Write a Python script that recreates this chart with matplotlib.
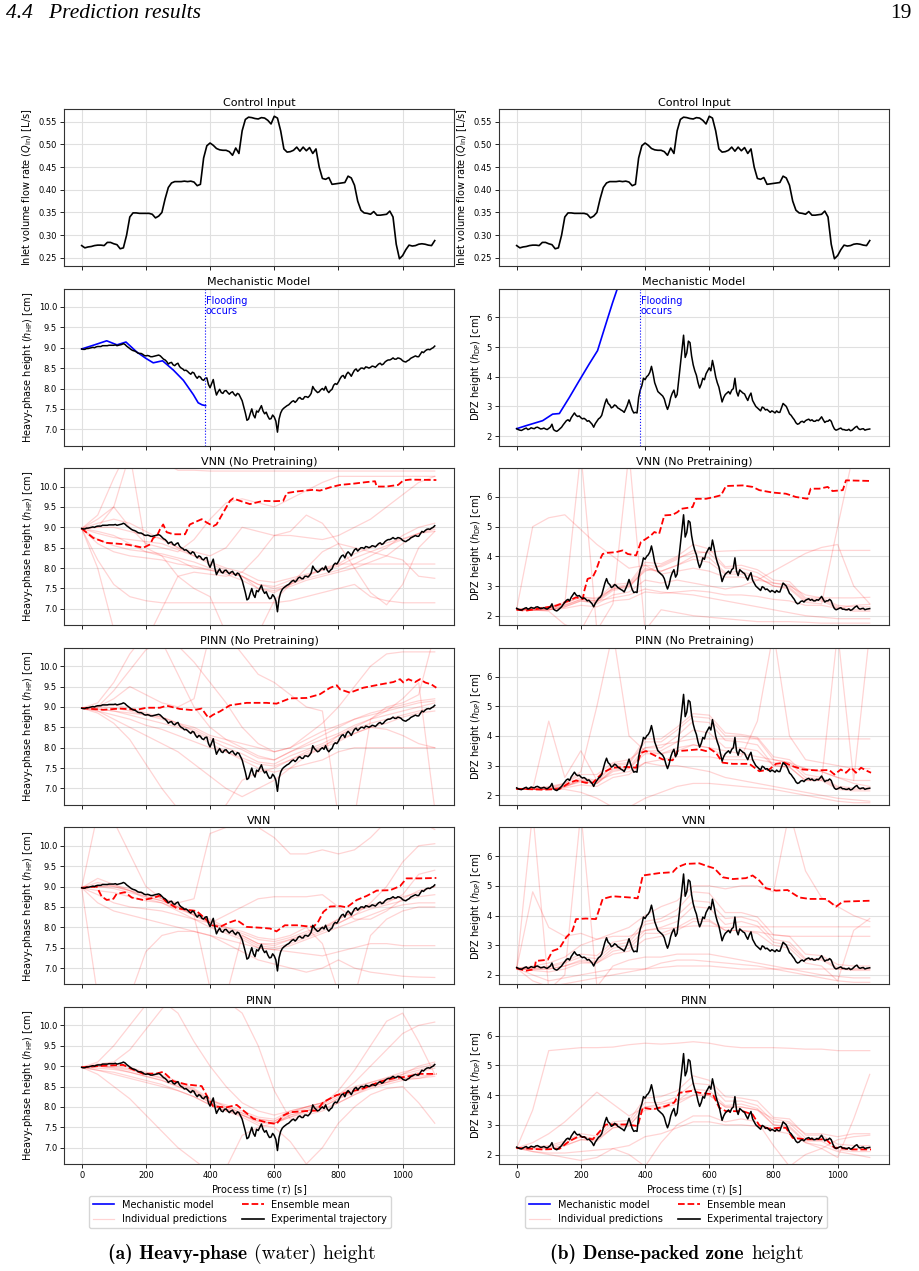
import numpy as np
import matplotlib
matplotlib.use("Agg")
import matplotlib.pyplot as plt
from matplotlib.lines import Line2D
from matplotlib.offsetbox import TextArea, HPacker, AnchoredOffsetbox

plt.rcParams.update({"xtick.labelsize": 6, "ytick.labelsize": 6, "axes.labelsize": 7,
                     "axes.titlesize": 8, "axes.edgecolor": "#333333"})

# control input, sampled every 10 s
T_Q = np.arange(0, 1101, 10)
Q_IN = [0.277, 0.272, 0.274, 0.275, 0.277, 0.278, 0.278, 0.277, 0.284, 0.284,
        0.281, 0.279, 0.270, 0.272, 0.300, 0.340, 0.349, 0.349, 0.348, 0.348,
        0.348, 0.348, 0.346, 0.338, 0.342, 0.350, 0.380, 0.405, 0.415, 0.418,
        0.418, 0.418, 0.419, 0.418, 0.419, 0.417, 0.409, 0.412, 0.470, 0.497,
        0.503, 0.498, 0.491, 0.488, 0.487, 0.487, 0.484, 0.476, 0.492, 0.480,
        0.530, 0.555, 0.560, 0.559, 0.557, 0.556, 0.559, 0.558, 0.553, 0.545,
        0.562, 0.558, 0.530, 0.490, 0.483, 0.484, 0.487, 0.494, 0.485, 0.494,
        0.486, 0.493, 0.480, 0.490, 0.450, 0.425, 0.423, 0.427, 0.412, 0.413,
        0.414, 0.415, 0.416, 0.430, 0.426, 0.410, 0.375, 0.355, 0.349, 0.348,
        0.346, 0.352, 0.344, 0.344, 0.345, 0.346, 0.353, 0.340, 0.280, 0.248,
        0.255, 0.268, 0.278, 0.276, 0.277, 0.280, 0.281, 0.280, 0.278, 0.277,
        0.288]

# experimental heights, sampled every 5 s
T_EXP = np.arange(0, 1101, 5)
H_HP = [8.97, 8.96, 8.96, 8.98, 8.98, 8.99, 9.00, 9.01, 9.00, 9.02,
        9.03, 9.03, 9.03, 9.05, 9.05, 9.05, 9.05, 9.06, 9.06, 9.06,
        9.06, 9.07, 9.05, 9.06, 9.07, 9.08, 9.10, 9.08, 9.04, 9.01,
        8.98, 8.95, 8.93, 8.92, 8.90, 8.87, 8.86, 8.86, 8.84, 8.81,
        8.80, 8.81, 8.80, 8.78, 8.78, 8.79, 8.80, 8.81, 8.82, 8.80,
        8.76, 8.72, 8.70, 8.66, 8.60, 8.63, 8.64, 8.58, 8.56, 8.60,
        8.62, 8.54, 8.50, 8.48, 8.44, 8.45, 8.42, 8.38, 8.35, 8.40,
        8.38, 8.30, 8.25, 8.30, 8.28, 8.22, 8.20, 8.25, 8.26, 8.10,
        8.02, 8.12, 8.22, 8.00, 7.84, 7.92, 7.98, 7.90, 7.88, 7.94,
        7.95, 7.90, 7.86, 7.90, 7.92, 7.86, 7.82, 7.88, 7.86, 7.78,
        7.70, 7.55, 7.40, 7.22, 7.25, 7.38, 7.50, 7.35, 7.28, 7.45,
        7.42, 7.50, 7.58, 7.45, 7.38, 7.42, 7.32, 7.25, 7.26, 7.35,
        7.30, 7.20, 6.93, 7.25, 7.40, 7.48, 7.52, 7.55, 7.58, 7.60,
        7.64, 7.68, 7.70, 7.66, 7.70, 7.76, 7.78, 7.74, 7.74, 7.80,
        7.80, 7.78, 7.82, 7.88, 8.05, 7.98, 7.94, 7.90, 7.92, 7.97,
        8.00, 7.96, 8.05, 7.95, 7.90, 7.95, 7.98, 8.08, 8.12, 8.10,
        8.16, 8.24, 8.30, 8.32, 8.25, 8.35, 8.40, 8.36, 8.30, 8.38,
        8.45, 8.48, 8.42, 8.46, 8.50, 8.50, 8.48, 8.53, 8.52, 8.50,
        8.52, 8.55, 8.54, 8.52, 8.56, 8.60, 8.62, 8.58, 8.60, 8.65,
        8.68, 8.70, 8.70, 8.72, 8.75, 8.72, 8.72, 8.75, 8.74, 8.72,
        8.68, 8.66, 8.65, 8.68, 8.70, 8.74, 8.76, 8.78, 8.80, 8.78,
        8.78, 8.84, 8.90, 8.88, 8.92, 8.95, 8.96, 8.95, 8.98, 9.00,
        9.04]
H_DP = [2.25, 2.22, 2.20, 2.19, 2.22, 2.25, 2.27, 2.22, 2.24, 2.28,
        2.26, 2.25, 2.29, 2.30, 2.27, 2.24, 2.25, 2.27, 2.24, 2.22,
        2.26, 2.30, 2.40, 2.22, 2.18, 2.16, 2.20, 2.25, 2.30, 2.38,
        2.45, 2.52, 2.55, 2.50, 2.62, 2.70, 2.78, 2.70, 2.66, 2.68,
        2.62, 2.58, 2.60, 2.56, 2.50, 2.52, 2.46, 2.40, 2.30, 2.42,
        2.50, 2.58, 2.62, 2.70, 2.90, 3.10, 3.25, 3.10, 3.05, 2.95,
        2.98, 3.05, 3.02, 2.95, 2.92, 2.88, 2.85, 2.80, 2.92, 3.05,
        3.22, 3.05, 2.88, 2.78, 2.80, 2.78, 3.30, 3.55, 3.70, 3.95,
        3.90, 4.00, 4.05, 4.15, 4.35, 4.10, 3.80, 3.65, 3.50, 3.45,
        3.40, 3.35, 3.25, 3.05, 2.90, 3.05, 3.30, 3.45, 3.55, 3.30,
        3.40, 3.90, 4.40, 4.90, 5.40, 4.65, 4.80, 5.20, 5.15, 4.70,
        4.40, 4.20, 4.05, 3.80, 3.62, 3.75, 3.95, 3.90, 4.10, 4.20,
        4.30, 4.20, 4.55, 4.30, 4.00, 3.80, 3.65, 3.40, 3.15, 3.30,
        3.40, 3.45, 3.50, 3.42, 3.55, 3.60, 3.95, 3.50, 3.35, 3.55,
        3.50, 3.45, 3.42, 3.30, 3.20, 3.35, 3.45, 3.20, 3.10, 3.00,
        2.95, 2.90, 2.85, 2.98, 2.95, 2.88, 2.90, 2.85, 2.80, 2.85,
        2.82, 2.78, 2.85, 2.80, 2.80, 2.95, 3.10, 3.05, 3.00, 2.88,
        2.75, 2.70, 2.62, 2.55, 2.45, 2.40, 2.42, 2.48, 2.50, 2.46,
        2.52, 2.55, 2.57, 2.52, 2.55, 2.50, 2.50, 2.54, 2.52, 2.58,
        2.65, 2.55, 2.46, 2.50, 2.50, 2.55, 2.50, 2.35, 2.24, 2.20,
        2.22, 2.25, 2.27, 2.22, 2.22, 2.20, 2.20, 2.23, 2.18, 2.20,
        2.25, 2.30, 2.33, 2.25, 2.22, 2.24, 2.25, 2.20, 2.22, 2.23,
        2.24]

# mechanistic model
T_FLOOD = 385
MECH_HP_T = [0, 40, 78, 110, 138, 171, 200, 223, 252, 286, 317, 348, 363, 375, 386]
MECH_HP = [8.97, 9.07, 9.17, 9.07, 9.14, 8.9, 8.74, 8.63, 8.68, 8.45, 8.2, 7.85, 7.65, 7.6, 7.58]
MECH_DP_T = [0, 29, 81, 112, 133, 164, 195, 226, 252, 278, 299, 315, 330]
MECH_DP = [2.25, 2.35, 2.52, 2.74, 2.76, 3.3, 3.87, 4.43, 4.88, 5.78, 6.5, 7.01, 7.5]

# ensemble means
HP_VNN_NP_MT = [0, 36, 78, 140, 192, 213, 223, 234, 244, 254, 265, 286, 322, 337, 374, 389, 410, 420,
                441, 462, 472, 493, 524, 545, 566, 597, 628, 639, 670, 722, 742, 774, 805, 846, 888,
                914, 919, 950, 986, 1002, 1023, 1105]
HP_VNN_NP_M = [8.97, 8.74, 8.62, 8.58, 8.5, 8.58, 8.74, 8.78, 8.95, 9.07, 8.88, 8.83, 8.83, 9.07, 9.2,
               9.12, 9.03, 9.07, 9.36, 9.65, 9.71, 9.65, 9.57, 9.61, 9.65, 9.64, 9.65, 9.84, 9.88, 9.92,
               9.9, 9.98, 10.04, 10.07, 10.11, 10.13, 10.0, 10.0, 10.04, 10.15, 10.17, 10.16]
HP_PINN_NP_MT = [0, 67, 119, 171, 202, 244, 265, 306, 348, 374, 395, 410, 431, 462, 514, 576, 607, 649,
                 701, 742, 774, 795, 805, 836, 877, 929, 971, 992, 1002, 1018, 1039, 1054, 1070, 1090, 1105]
HP_PINN_NP_M = [8.97, 8.93, 8.96, 8.93, 8.98, 8.98, 9.03, 8.95, 8.92, 8.96, 8.73, 8.81, 8.89, 9.04, 9.1,
                9.1, 9.08, 9.21, 9.22, 9.31, 9.47, 9.53, 9.43, 9.35, 9.47, 9.55, 9.61, 9.68, 9.6, 9.68,
                9.61, 9.68, 9.6, 9.55, 9.47]
HP_VNN_MT = [0, 47, 62, 78, 99, 109, 135, 156, 192, 223, 244, 265, 296, 327, 358, 384, 405, 431, 457, 483,
             514, 556, 587, 607, 633, 670, 722, 737, 753, 774, 805, 826, 857, 888, 919, 961, 992, 1012, 1054, 1105]
HP_VNN_M = [8.97, 9.0, 8.76, 8.67, 8.7, 8.82, 8.86, 8.73, 8.67, 8.72, 8.78, 8.62, 8.47, 8.43, 8.4, 8.22,
            8.05, 8.01, 8.11, 8.18, 8.01, 7.99, 7.97, 7.9, 8.05, 8.05, 8.01, 8.14, 8.38, 8.51, 8.52, 8.49,
            8.67, 8.77, 8.9, 8.91, 9.01, 9.2, 9.2, 9.21]
HP_PINN_MT = [0, 67, 130, 150, 192, 234, 254, 286, 327, 374, 395, 410, 452, 483, 504, 535, 576, 607, 628,
              649, 701, 732, 753, 794, 836, 877, 929, 971, 1012, 1054, 1105]
HP_PINN_M = [8.97, 9.01, 9.03, 8.95, 8.81, 8.82, 8.86, 8.63, 8.55, 8.51, 8.2, 8.01, 7.99, 8.05, 7.91, 7.71,
             7.62, 7.58, 7.79, 7.87, 7.9, 7.91, 8.12, 8.29, 8.37, 8.45, 8.62, 8.7, 8.74, 8.81, 8.81]
DP_VNN_NP_MT = [0, 29, 81, 123, 164, 185, 206, 211, 221, 237, 247, 258, 268, 283, 309, 330, 346, 372, 387,
                403, 418, 429, 444, 460, 486, 501, 512, 548, 558, 590, 616, 637, 652, 704, 735, 756, 797,
                839, 870, 906, 916, 943, 969, 984, 1016, 1026, 1104]
DP_VNN_NP_M = [2.2, 2.17, 2.26, 2.34, 2.51, 2.62, 2.56, 2.85, 3.24, 3.3, 3.52, 3.86, 4.08, 4.12, 4.14, 4.2,
               4.08, 4.03, 4.48, 4.59, 4.7, 4.82, 4.76, 5.38, 5.4, 5.49, 5.6, 5.66, 5.94, 5.94, 6.0, 6.06,
               6.37, 6.39, 6.34, 6.23, 6.15, 6.11, 6.0, 5.94, 6.28, 6.28, 6.34, 6.2, 6.23, 6.56, 6.54]
DP_PINN_NP_MT = [0, 81, 133, 164, 185, 216, 237, 268, 299, 341, 372, 387, 403, 434, 455, 486, 501, 527, 569,
                 590, 600, 621, 642, 673, 725, 756, 787, 808, 834, 860, 891, 932, 974, 990, 1010, 1026,
                 1042, 1057, 1073, 1088, 1104]
DP_PINN_NP_M = [2.22, 2.19, 2.21, 2.42, 2.5, 2.42, 2.42, 2.76, 2.93, 2.96, 2.93, 3.43, 3.49, 3.32, 3.21,
                3.18, 3.49, 3.51, 3.55, 3.49, 3.58, 3.43, 3.1, 3.06, 3.06, 2.81, 2.87, 3.06, 3.1, 2.98,
                2.87, 2.84, 2.85, 2.7, 2.87, 2.76, 2.93, 2.76, 2.93, 2.84, 2.76]
DP_VNN_MT = [0, 29, 55, 60, 97, 112, 133, 154, 174, 185, 216, 247, 268, 299, 351, 377, 393, 444, 486, 501,
             527, 569, 595, 616, 642, 673, 714, 735, 756, 777, 808, 844, 880, 912, 964, 984, 995, 1016, 1104]
DP_VNN_M = [2.22, 2.14, 2.19, 2.47, 2.51, 2.81, 2.89, 3.26, 3.49, 3.88, 3.9, 3.88, 4.56, 4.65, 4.61, 4.58,
            5.35, 5.43, 5.46, 5.63, 5.74, 5.76, 5.66, 5.59, 5.29, 5.23, 5.26, 5.35, 5.18, 4.92, 4.84, 4.86,
            4.61, 4.56, 4.56, 4.39, 4.3, 4.47, 4.5]
DP_PINN_MT = [0, 81, 133, 164, 195, 237, 278, 341, 377, 393, 424, 465, 491, 507, 543, 569, 611, 631, 652,
              704, 735, 756, 787, 818, 839, 860, 901, 964, 990, 1047, 1104]
DP_PINN_M = [2.22, 2.17, 2.19, 2.45, 2.62, 2.51, 3.01, 3.01, 2.96, 3.58, 3.52, 3.63, 3.75, 4.08, 4.14, 4.08,
             4.03, 3.58, 3.46, 3.46, 3.35, 2.98, 2.87, 2.9, 2.9, 2.56, 2.51, 2.51, 2.23, 2.17, 2.17]

# individual ensemble members, read every 50 s
T_GRID = [0, 50, 100, 150, 200, 250, 300, 350, 400, 450, 500, 550, 600, 650, 700, 750, 800, 850, 900, 950,
          1000, 1050, 1100]
HP_VNN_NP_IND = [
    [8.97, 9.0, 9.0, 8.9, 8.8, 8.72, 8.5, 8.3, 8.1, 7.95, 7.8, 7.6, 7.55, 7.7, 7.8, 7.95, 8.1, 8.35, 8.5, 8.62, 8.72, 8.85, 9.0],
    [8.97, 8.85, 8.75, 8.7, 8.65, 8.6, 8.45, 8.3, 8.15, 8.0, 7.9, 7.7, 7.65, 7.75, 7.85, 7.95, 8.05, 8.25, 8.4, 8.55, 8.7, 8.85, 8.95],
    [8.97, 8.7, 8.55, 8.45, 8.4, 8.35, 8.25, 8.15, 8.0, 7.9, 7.8, 7.6, 7.5, 7.6, 7.75, 7.85, 7.95, 8.1, 8.3, 8.5, 8.8, 9.0, 9.1],
    [8.97, 8.6, 8.4, 8.3, 8.25, 8.2, 8.1, 8.05, 7.95, 7.85, 7.7, 7.5, 7.45, 7.55, 7.7, 7.8, 7.9, 8.0, 8.15, 8.3, 8.6, 8.85, 8.9],
    [8.97, 8.2, 7.6, 7.3, 7.2, 7.15, 7.15, 7.15, 7.15, 7.15, 7.15, 7.15, 7.15, 7.2, 7.3, 7.4, 7.5, 7.6, 7.3, 7.2, 7.15, 7.15, 7.15],
    [8.97, 9.3, 10.2, 11.0, 11.0, 10.6, 10.4, 10.4, 10.38, 10.38, 10.38, 10.38, 10.38, 10.38, 10.38, 10.38, 10.38, 10.38, 10.38, 10.38, 10.38, 10.38, 10.38],
    [8.97, 8.0, 6.5, 6.2, 6.2, 7.0, 7.8, 7.9, 7.85, 7.8, 7.9, 8.3, 8.8, 8.8, 8.75, 8.7, 8.8, 9.0, 9.2, 9.5, 9.8, 10.1, 10.25],
    [8.97, 9.2, 9.5, 9.0, 8.6, 8.5, 8.4, 8.7, 9.2, 9.6, 9.7, 9.6, 9.5, 9.7, 9.9, 10.1, 10.25, 10.25, 10.25, 10.25, 10.25, 10.25, 10.25],
    [8.97, 8.9, 8.8, 8.6, 8.4, 8.3, 8.2, 8.0, 7.95, 7.9, 7.8, 7.5, 7.4, 7.6, 7.8, 8.0, 8.1, 8.1, 8.1, 8.1, 8.1, 8.1, 8.1],
    [8.97, 9.0, 9.5, 10.8, 8.5, 8.3, 7.8, 7.5, 7.3, 6.4, 6.2, 6.4, 7.2, 7.6, 8.0, 8.4, 8.6, 8.5, 8.4, 8.3, 8.2, 7.8, 7.75],
    [8.97, 9.1, 9.2, 9.1, 8.9, 8.7, 8.5, 8.4, 8.3, 8.5, 9.0, 8.9, 8.8, 8.9, 9.3, 9.1, 8.6, 8.0, 7.4, 7.1, 7.6, 8.5, 8.9],
]
HP_PINN_NP_IND = [
    [8.97, 9.02, 9.05, 8.97, 8.85, 8.75, 8.6, 8.4, 8.2, 8.0, 7.85, 7.65, 7.6, 7.8, 7.95, 8.1, 8.3, 8.45, 8.6, 8.7, 8.8, 8.9, 9.0],
    [8.97, 9.0, 8.98, 8.9, 8.8, 8.7, 8.55, 8.45, 8.25, 8.1, 7.95, 7.75, 7.7, 7.9, 8.05, 8.2, 8.35, 8.55, 8.7, 8.8, 8.9, 9.0, 9.1],
    [8.97, 8.95, 8.9, 8.8, 8.7, 8.6, 8.5, 8.35, 8.1, 7.9, 7.75, 7.6, 7.55, 7.7, 7.85, 8.0, 8.15, 8.35, 8.5, 8.6, 8.75, 8.85, 8.9],
    [8.97, 9.1, 9.6, 10.3, 10.8, 10.6, 9.8, 9.0, 8.5, 8.2, 8.0, 7.8, 7.7, 7.9, 8.1, 8.3, 8.5, 8.7, 8.85, 8.95, 9.05, 9.15, 9.2],
    [8.97, 9.0, 9.4, 9.9, 10.4, 10.6, 10.5, 10.1, 9.6, 9.1, 8.5, 8.1, 7.9, 8.0, 8.2, 8.4, 8.55, 8.7, 8.8, 8.9, 9.0, 9.1, 9.15],
    [8.97, 8.85, 8.6, 8.2, 7.6, 7.0, 6.5, 6.2, 6.2, 6.6, 7.2, 7.4, 7.5, 7.7, 7.9, 8.05, 8.2, 8.35, 8.5, 8.45, 8.3, 8.1, 8.0],
    [8.97, 8.95, 8.9, 8.85, 8.8, 8.75, 8.6, 8.5, 8.3, 8.2, 8.1, 8.0, 7.9, 8.0, 8.3, 8.6, 9.0, 9.5, 10.0, 10.3, 10.35, 10.35, 10.35],
    [8.97, 8.9, 8.8, 8.7, 8.55, 8.45, 8.3, 8.15, 8.0, 7.9, 7.7, 7.5, 7.4, 7.5, 7.6, 7.7, 7.9, 8.0, 8.0, 8.0, 8.0, 8.0, 8.0],
    [8.97, 9.0, 9.2, 9.5, 9.3, 9.1, 9.0, 9.2, 10.8, 10.8, 10.3, 9.8, 9.6, 9.3, 9.0, 8.9, 6.3, 6.3, 8.7, 9.0, 9.1, 9.3, 10.8],
    [8.97, 8.9, 8.7, 8.5, 8.3, 8.1, 7.9, 7.6, 7.3, 7.0, 6.8, 7.0, 7.2, 7.5, 7.8, 8.0, 8.3, 8.5, 8.7, 8.9, 9.2, 9.6, 6.5],
]
HP_VNN_IND = [
    [8.97, 9.0, 9.03, 8.95, 8.8, 8.72, 8.55, 8.35, 8.15, 7.95, 7.8, 7.6, 7.55, 7.7, 7.85, 8.0, 8.2, 8.4, 8.55, 8.65, 8.75, 8.85, 9.0],
    [8.97, 8.9, 8.85, 8.75, 8.65, 8.6, 8.45, 8.3, 8.1, 7.9, 7.75, 7.55, 7.5, 7.6, 7.75, 7.9, 8.1, 8.3, 8.45, 8.55, 8.65, 8.75, 8.8],
    [8.97, 8.8, 8.6, 8.5, 8.45, 8.4, 8.3, 8.2, 8.0, 7.85, 7.7, 7.5, 7.45, 7.55, 7.7, 7.85, 8.0, 8.15, 8.3, 8.45, 8.55, 8.6, 8.6],
    [8.97, 9.2, 9.05, 8.9, 8.75, 8.65, 8.5, 8.3, 6.5, 6.3, 7.8, 7.6, 7.6, 7.7, 7.8, 7.95, 8.2, 8.4, 8.5, 8.6, 8.8, 9.3, 9.4],
    [8.97, 6.3, 6.2, 6.3, 7.4, 7.8, 7.9, 7.9, 7.8, 7.7, 7.6, 7.5, 7.45, 7.4, 7.35, 7.3, 7.4, 7.5, 7.6, 7.6, 7.55, 7.55, 7.55],
    [8.97, 10.8, 10.6, 9.8, 9.0, 8.7, 8.6, 8.7, 10.3, 10.45, 10.45, 10.45, 10.2, 9.8, 9.8, 9.9, 9.8, 9.9, 10.2, 10.6, 10.6, 10.6, 10.4],
    [8.97, 9.1, 9.0, 8.9, 8.7, 8.6, 8.4, 8.2, 8.1, 8.3, 8.5, 8.7, 8.75, 8.75, 8.75, 8.8, 8.5, 8.2, 8.2, 8.4, 8.7, 8.9, 9.0],
    [8.97, 8.6, 8.4, 8.3, 8.2, 8.1, 8.0, 7.9, 7.8, 7.6, 7.4, 7.2, 7.1, 7.0, 6.9, 7.0, 7.2, 7.0, 6.9, 6.85, 6.8, 6.78, 6.77],
    [8.97, 9.0, 9.0, 8.9, 8.8, 8.7, 8.5, 8.3, 8.1, 8.0, 7.85, 7.7, 7.65, 7.75, 7.9, 8.0, 8.1, 8.3, 8.6, 9.0, 9.6, 10.0, 10.05],
    [8.97, 9.0, 8.95, 8.85, 8.75, 8.65, 8.5, 8.35, 8.2, 8.0, 7.9, 7.75, 7.7, 7.8, 8.0, 7.6, 6.4, 6.3, 7.8, 8.2, 8.4, 8.5, 8.5],
]
HP_PINN_IND = [
    [8.97, 9.02, 9.05, 8.97, 8.85, 8.78, 8.62, 8.45, 8.2, 8.0, 7.85, 7.7, 7.65, 7.85, 7.95, 8.05, 8.25, 8.4, 8.55, 8.65, 8.75, 8.85, 8.95],
    [8.97, 9.0, 9.0, 8.93, 8.82, 8.72, 8.58, 8.42, 8.15, 8.05, 7.9, 7.75, 7.7, 7.9, 8.0, 8.1, 8.3, 8.45, 8.6, 8.72, 8.85, 8.95, 9.05],
    [8.97, 8.95, 8.92, 8.85, 8.75, 8.65, 8.5, 8.35, 8.1, 7.95, 7.8, 7.6, 7.6, 7.75, 7.9, 8.0, 8.2, 8.35, 8.5, 8.6, 8.7, 8.75, 8.8],
    [8.97, 8.9, 8.8, 8.7, 8.6, 8.5, 8.4, 8.25, 8.05, 7.9, 7.8, 7.65, 7.6, 7.75, 7.85, 7.95, 8.1, 8.3, 8.45, 8.55, 8.65, 8.7, 8.75],
    [8.97, 9.1, 9.5, 10.0, 10.5, 10.6, 10.3, 9.6, 9.0, 8.5, 8.1, 7.9, 7.8, 7.9, 8.0, 8.1, 8.3, 8.5, 8.6, 8.7, 8.8, 8.9, 9.0],
    [8.97, 8.8, 8.5, 8.2, 7.8, 7.4, 7.0, 6.7, 6.4, 6.5, 7.3, 7.5, 7.6, 7.8, 7.9, 8.0, 8.2, 8.4, 8.5, 8.6, 8.7, 8.7, 8.8],
    [8.97, 9.05, 9.1, 9.4, 9.9, 10.4, 10.8, 10.9, 10.8, 10.6, 10.3, 9.5, 8.4, 7.7, 7.8, 7.9, 8.1, 8.3, 8.5, 8.6, 8.8, 9.0, 9.1],
    [8.97, 9.0, 8.95, 8.85, 8.75, 8.65, 8.5, 8.35, 8.1, 7.95, 7.8, 7.65, 7.6, 7.8, 7.9, 8.05, 8.4, 8.9, 9.5, 10.1, 10.3, 9.6, 8.8],
    [8.97, 9.0, 8.97, 8.9, 8.8, 8.7, 8.55, 8.4, 8.15, 8.0, 7.85, 7.7, 7.65, 7.85, 8.0, 8.1, 8.3, 8.6, 9.0, 9.4, 9.8, 10.0, 10.08],
    [8.97, 8.9, 8.85, 8.75, 8.65, 8.55, 8.4, 8.25, 8.05, 7.9, 7.75, 7.55, 7.5, 7.15, 6.6, 7.0, 7.6, 8.0, 8.3, 8.45, 8.5, 8.1, 7.6],
]
DP_VNN_NP_IND = [
    [2.22, 2.22, 2.25, 2.35, 2.55, 2.5, 2.95, 3.05, 3.7, 3.65, 3.9, 4.2, 4.1, 3.6, 3.6, 3.45, 3.1, 3.05, 2.55, 2.55, 2.3, 2.2, 2.2],
    [2.2, 2.18, 2.2, 2.3, 2.5, 2.45, 2.85, 2.95, 3.55, 3.5, 3.7, 4.0, 3.95, 3.45, 3.5, 3.3, 3.0, 2.95, 2.5, 2.5, 2.25, 2.15, 2.15],
    [2.22, 2.25, 2.28, 2.4, 2.65, 2.55, 3.05, 3.1, 3.8, 3.75, 4.0, 4.4, 4.25, 3.65, 3.7, 3.55, 3.2, 3.15, 2.6, 2.6, 2.35, 2.3, 2.3],
    [2.22, 5.0, 5.3, 5.4, 4.9, 4.4, 4.0, 3.6, 3.7, 3.4, 3.5, 3.6, 3.5, 3.3, 3.3, 3.2, 3.1, 3.0, 2.7, 2.6, 2.6, 2.6, 2.62],
    [2.2, 2.25, 2.3, 2.45, 2.6, 2.6, 2.9, 3.0, 3.5, 3.7, 3.95, 4.1, 4.15, 4.18, 4.2, 4.2, 4.2, 4.2, 4.2, 4.2, 4.2, 4.2, 4.2],
    [2.2, 2.2, 2.15, 1.7, 1.5, 2.5, 2.6, 2.7, 2.9, 2.8, 2.75, 2.7, 2.6, 2.5, 2.4, 2.3, 2.2, 2.1, 2.0, 1.95, 1.9, 1.9, 1.9],
    [2.22, 2.2, 2.25, 2.4, 7.5, 1.5, 2.4, 7.5, 1.5, 2.2, 2.1, 2.0, 1.95, 1.9, 1.85, 1.8, 1.8, 1.8, 1.78, 1.75, 1.75, 1.75, 1.75],
    [2.22, 2.2, 2.2, 2.3, 2.5, 2.4, 2.7, 2.8, 3.2, 3.1, 3.2, 3.1, 3.0, 2.9, 3.0, 3.2, 3.5, 3.8, 4.1, 4.3, 4.4, 3.0, 2.4],
    [2.22, 2.2, 2.2, 2.35, 2.55, 2.5, 2.9, 3.0, 3.6, 3.5, 3.7, 3.9, 3.8, 3.4, 3.4, 3.3, 3.0, 2.9, 2.45, 2.4, 5.0, 7.5, 7.5],
    [2.2, 2.18, 2.2, 2.25, 2.35, 2.3, 2.5, 2.55, 2.8, 2.75, 2.8, 2.85, 2.8, 2.7, 2.7, 2.65, 2.55, 2.5, 2.35, 2.35, 2.25, 2.35, 2.38],
]
DP_PINN_NP_IND = [
    [2.22, 2.2, 2.22, 2.3, 2.55, 2.45, 3.0, 3.05, 3.8, 3.8, 4.2, 4.65, 4.6, 4.0, 4.0, 3.9, 3.2, 3.1, 2.6, 2.55, 2.25, 2.2, 2.2],
    [2.2, 2.2, 2.2, 2.28, 2.5, 2.4, 2.9, 2.95, 3.6, 3.6, 4.0, 4.5, 4.45, 3.85, 3.8, 3.7, 3.0, 2.95, 2.5, 2.5, 2.2, 2.15, 2.15],
    [2.22, 2.22, 2.25, 2.35, 2.6, 2.5, 3.05, 3.1, 3.9, 3.9, 4.3, 4.75, 4.7, 4.1, 4.05, 3.95, 3.3, 3.2, 2.7, 2.6, 2.3, 2.25, 2.25],
    [2.22, 2.2, 4.5, 2.6, 3.5, 2.5, 2.7, 2.8, 3.1, 3.2, 3.3, 3.3, 3.3, 3.2, 3.2, 3.2, 3.1, 3.0, 2.9, 2.8, 2.6, 2.4, 2.3],
    [2.22, 2.2, 2.25, 2.4, 2.7, 2.7, 3.1, 3.2, 3.6, 3.7, 3.8, 3.9, 3.9, 3.9, 3.9, 3.9, 3.9, 3.9, 3.9, 3.9, 3.9, 3.9, 3.9],
    [2.2, 2.2, 2.2, 2.2, 2.1, 1.9, 1.6, 1.6, 1.9, 2.1, 2.3, 2.4, 2.4, 2.35, 2.3, 2.25, 2.2, 2.1, 2.0, 1.9, 1.8, 1.75, 1.75],
    [2.22, 2.25, 2.3, 2.4, 2.8, 5.0, 7.5, 4.0, 3.5, 3.4, 3.6, 3.7, 3.6, 3.5, 3.4, 3.3, 3.2, 3.1, 2.9, 2.8, 2.6, 2.5, 2.5],
    [2.22, 2.2, 2.2, 2.3, 2.5, 2.4, 2.8, 2.9, 3.4, 3.4, 3.5, 3.7, 3.6, 3.3, 3.3, 4.5, 7.5, 4.0, 3.2, 3.1, 3.0, 2.9, 2.9],
    [2.2, 2.2, 2.2, 2.3, 2.45, 2.4, 2.85, 2.9, 3.5, 3.5, 3.8, 4.2, 4.1, 3.6, 3.6, 3.5, 3.0, 2.95, 2.5, 2.5, 7.5, 2.5, 7.5],
    [2.22, 2.2, 2.2, 2.25, 2.35, 2.3, 2.6, 2.7, 3.1, 3.0, 3.0, 2.9, 2.8, 2.6, 2.5, 2.4, 2.3, 2.2, 2.1, 2.0, 1.9, 1.85, 1.8],
]
DP_VNN_IND = [
    [2.22, 2.22, 2.25, 2.4, 2.6, 2.55, 3.0, 3.1, 3.7, 3.8, 4.0, 4.5, 4.45, 3.9, 3.95, 3.8, 3.2, 3.1, 2.55, 2.55, 2.25, 2.2, 2.2],
    [2.2, 2.18, 2.2, 2.3, 2.5, 2.45, 2.9, 3.0, 3.5, 3.6, 3.8, 4.3, 4.25, 3.7, 3.8, 3.65, 3.1, 3.0, 2.5, 2.5, 2.2, 2.15, 2.15],
    [2.22, 2.25, 2.3, 2.45, 2.7, 2.65, 3.1, 3.2, 3.8, 3.9, 4.2, 4.8, 4.75, 4.1, 4.1, 3.95, 3.35, 3.3, 2.7, 2.65, 2.35, 2.3, 2.3],
    [2.22, 4.8, 3.6, 3.3, 3.4, 3.2, 3.3, 3.3, 3.5, 3.55, 3.6, 3.65, 3.65, 3.6, 3.62, 3.62, 3.62, 3.62, 3.62, 3.62, 3.62, 3.62, 3.62],
    [2.22, 2.0, 1.8, 1.9, 2.0, 2.1, 2.2, 2.2, 2.2, 2.25, 2.3, 2.3, 2.3, 2.25, 2.2, 2.2, 2.2, 2.2, 2.2, 2.2, 2.2, 2.2, 2.2],
    [2.22, 7.5, 1.5, 2.0, 7.5, 1.6, 2.3, 2.5, 2.6, 2.6, 2.7, 2.7, 2.7, 2.6, 2.5, 2.4, 2.3, 2.2, 2.1, 2.0, 1.95, 1.9, 1.9],
    [2.22, 2.3, 2.4, 2.6, 3.0, 3.2, 3.4, 3.6, 4.0, 4.3, 4.5, 5.0, 5.0, 4.9, 5.0, 5.0, 4.8, 7.5, 5.5, 4.6, 4.3, 4.0, 3.8],
    [2.22, 2.2, 2.2, 2.3, 2.45, 2.4, 2.8, 2.9, 3.4, 3.4, 3.6, 3.9, 3.85, 3.5, 3.5, 3.4, 3.0, 2.9, 2.4, 2.3, 1.8, 3.5, 3.9],
    [2.22, 2.15, 2.1, 2.2, 2.4, 2.4, 2.7, 2.8, 3.2, 3.3, 3.5, 3.8, 3.8, 3.5, 3.5, 3.45, 3.35, 3.3, 3.3, 3.3, 3.3, 3.3, 3.3],
    [2.22, 1.8, 1.6, 1.7, 1.8, 1.9, 2.0, 2.1, 2.2, 2.4, 2.5, 2.5, 2.45, 2.4, 2.35, 2.3, 2.2, 2.1, 2.0, 1.9, 1.8, 1.75, 1.75],
]
DP_PINN_IND = [
    [2.22, 2.22, 2.25, 2.38, 2.6, 2.55, 3.0, 3.05, 3.75, 3.75, 3.95, 4.4, 4.35, 3.8, 3.8, 3.65, 3.1, 3.05, 2.55, 2.55, 2.25, 2.2, 2.2],
    [2.2, 2.18, 2.2, 2.3, 2.5, 2.45, 2.9, 2.95, 3.6, 3.6, 3.8, 4.2, 4.15, 3.65, 3.7, 3.55, 3.0, 2.95, 2.45, 2.45, 2.15, 2.1, 2.1],
    [2.22, 2.25, 2.3, 2.45, 2.7, 2.62, 3.1, 3.15, 3.9, 3.95, 4.15, 4.65, 4.5, 3.95, 3.9, 3.8, 3.25, 3.2, 2.65, 2.65, 2.35, 2.3, 2.3],
    [2.22, 3.5, 5.5, 5.55, 5.6, 5.6, 5.62, 5.7, 5.75, 5.72, 5.75, 5.8, 5.75, 5.65, 5.6, 5.6, 5.6, 5.58, 5.55, 5.55, 5.5, 5.5, 5.5],
    [2.22, 2.2, 2.2, 2.3, 2.5, 2.5, 2.9, 3.0, 3.5, 3.55, 3.7, 4.0, 4.0, 3.6, 3.6, 3.5, 3.0, 2.9, 2.4, 2.2, 1.9, 3.2, 4.7],
    [2.22, 2.4, 2.7, 3.1, 3.6, 4.1, 3.7, 3.3, 3.6, 3.7, 3.8, 4.0, 4.0, 3.6, 3.6, 3.5, 3.2, 3.1, 2.7, 2.7, 2.6, 2.7, 2.7],
    [2.22, 2.1, 2.0, 1.9, 1.8, 1.9, 2.2, 2.0, 1.6, 2.4, 3.0, 3.3, 3.3, 3.1, 3.2, 3.1, 2.3, 1.6, 2.0, 2.2, 2.5, 2.6, 2.65],
    [2.22, 2.1, 2.05, 2.05, 2.1, 2.15, 2.2, 2.3, 2.6, 2.7, 2.9, 3.1, 3.1, 3.0, 3.0, 2.95, 2.8, 2.7, 2.4, 2.3, 2.1, 2.0, 1.9],
]

TITLES = ["Control Input", "Mechanistic Model", "VNN (No Pretraining)", "PINN (No Pretraining)", "VNN", "PINN"]

W, H = 919, 1271
fig = plt.figure(figsize=(W / 100, H / 100), dpi=100)


def axes_at(left, top, width=390, height=157):
    return fig.add_axes([left / W, 1 - (top + height) / H, width / W, height / H])


def style(ax, title, i):
    ax.set_title(title, pad=2.5)
    ax.set_xlim(-55, 1160)
    ax.grid(True, color="#e0e0e0", lw=0.8)
    ax.tick_params(length=3, width=0.6, pad=2)
    if i < 5:
        ax.tick_params(labelbottom=False)
    else:
        ax.set_xlabel(r"Process time ($\tau$) [s]", labelpad=2)


columns = [
    dict(x=64, y=H_HP, ylim=(6.6, 10.45), ylabel=r"Heavy-phase height ($h_{\mathrm{HP}}$) [cm]",
         mech=(MECH_HP_T, MECH_HP),
         panels=[(HP_VNN_NP_IND, HP_VNN_NP_MT, HP_VNN_NP_M), (HP_PINN_NP_IND, HP_PINN_NP_MT, HP_PINN_NP_M),
                 (HP_VNN_IND, HP_VNN_MT, HP_VNN_M), (HP_PINN_IND, HP_PINN_MT, HP_PINN_M)]),
    dict(x=499, y=H_DP, ylim=(1.68, 6.97), ylabel=r"DPZ height ($h_{\mathrm{DP}}$) [cm]",
         mech=(MECH_DP_T, MECH_DP),
         panels=[(DP_VNN_NP_IND, DP_VNN_NP_MT, DP_VNN_NP_M), (DP_PINN_NP_IND, DP_PINN_NP_MT, DP_PINN_NP_M),
                 (DP_VNN_IND, DP_VNN_MT, DP_VNN_M), (DP_PINN_IND, DP_PINN_MT, DP_PINN_M)]),
]

for col in columns:
    tops = [109 + 179.6 * i for i in range(6)]
    # control input
    ax = axes_at(col["x"], tops[0])
    ax.plot(T_Q, Q_IN, color="k", lw=1.2)
    ax.set_ylim(0.232, 0.578)
    ax.set_ylabel(r"Inlet volume flow rate ($Q_{\mathrm{in}}$) [L/s]", labelpad=3)
    style(ax, TITLES[0], 0)
    # mechanistic model
    ax = axes_at(col["x"], tops[1])
    ax.plot(col["mech"][0], col["mech"][1], color="b", lw=1.2)
    ax.plot(T_EXP, col["y"], color="k", lw=1.1)
    ax.axvline(T_FLOOD, color="b", ls=":", lw=0.8)
    ax.text(T_FLOOD + 2, 0.95, "Flooding\noccurs", color="b", fontsize=7, ha="left", va="top",
            transform=ax.get_xaxis_transform(), linespacing=1.0)
    ax.set_ylim(*col["ylim"])
    ax.set_ylabel(col["ylabel"], labelpad=3)
    style(ax, TITLES[1], 1)
    # data-driven models
    for k, (ind, mt, mv) in enumerate(col["panels"]):
        ax = axes_at(col["x"], tops[k + 2])
        for v in ind:
            ax.plot(T_GRID, v, color="red", alpha=0.17, lw=0.9)
        ax.plot(mt, mv, color="r", ls="--", lw=1.3)
        ax.plot(T_EXP, col["y"], color="k", lw=1.1)
        ax.set_ylim(*col["ylim"])
        ax.set_ylabel(col["ylabel"], labelpad=3)
        style(ax, TITLES[k + 2], k + 2)

handles = [Line2D([], [], color="b", lw=1.2), Line2D([], [], color="red", alpha=0.17, lw=0.9),
           Line2D([], [], color="r", ls="--", lw=1.3), Line2D([], [], color="k", lw=1.2)]
labels = ["Mechanistic model", "Individual predictions", "Ensemble mean", "Experimental trajectory"]
for cx in (240, 676):
    fig.legend(handles, labels, loc="center", bbox_to_anchor=(cx / W, 1 - 1212 / H), ncol=2,
               fontsize=7, handlelength=2.2, columnspacing=1.6, borderpad=0.4)

# page header and captions
fig.text(6 / W, 1 - 14 / H, "4.4   Prediction results", family="Liberation Serif", style="italic",
         fontsize=15.5, va="center", ha="left")
fig.text(912 / W, 1 - 14 / H, "19", family="Liberation Serif", fontsize=15.5, va="center", ha="right")


def caption(cx, bold, rest):
    box = HPacker(children=[TextArea(bold, textprops=dict(family="cmb10", size=14)),
                            TextArea(rest, textprops=dict(family="cmr10", size=14))],
                  align="baseline", pad=0, sep=5)
    fig.add_artist(AnchoredOffsetbox(loc="center", child=box, frameon=False, borderpad=0, pad=0,
                                     bbox_to_anchor=(cx / W, 1 - 1254 / H),
                                     bbox_transform=fig.transFigure))


caption(242, "(a) Heavy-phase", "(water) height")
caption(677, "(b) Dense-packed zone", "height")

fig.savefig("out.png", dpi=100)
